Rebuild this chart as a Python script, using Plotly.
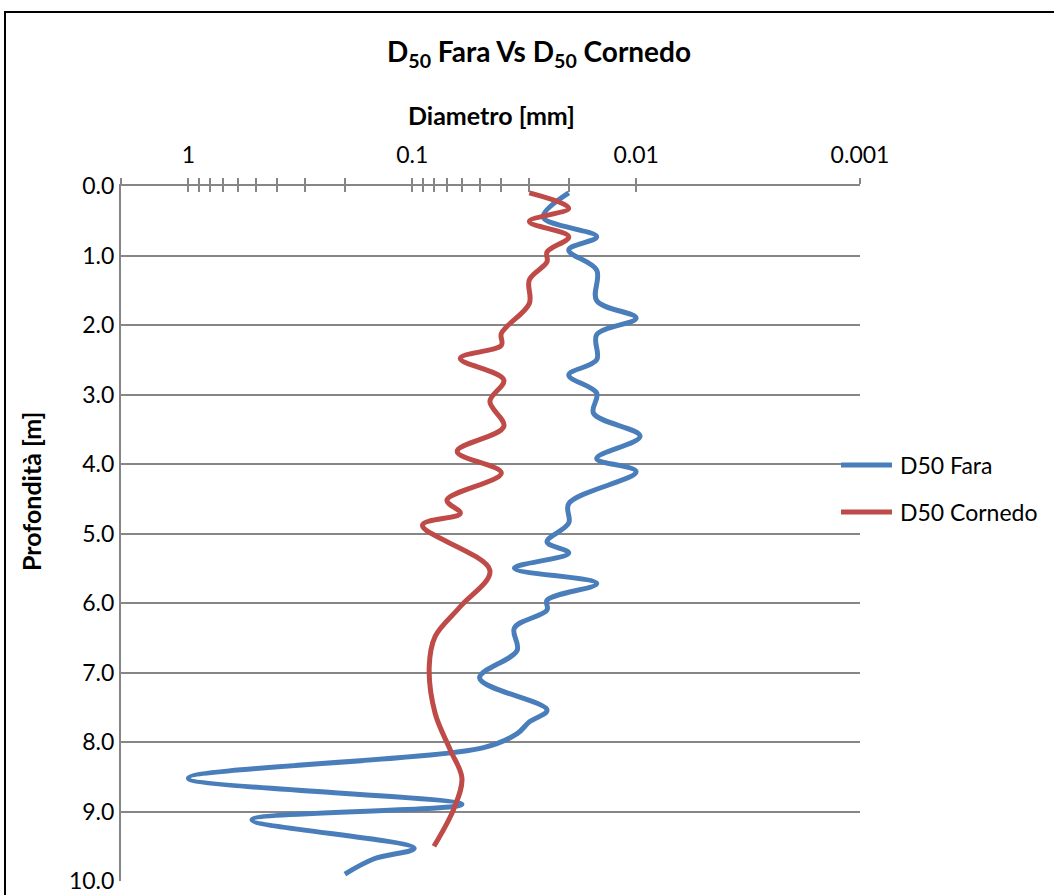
import plotly.graph_objects as go

# D50 grain diameter [mm] against depth [m]
depth_fara = [0.10, 0.45, 0.73, 0.92, 1.21, 1.65, 1.90, 2.14, 2.50, 2.72, 2.98, 3.27,
              3.60, 3.92, 4.11, 4.57, 4.85, 5.12, 5.28, 5.50, 5.72, 5.96, 6.10, 6.36,
              6.68, 7.08, 7.54, 7.71, 7.88, 8.08, 8.52, 8.90, 9.12, 9.53, 9.68, 9.90]
d50_fara = [0.020, 0.026, 0.015, 0.020, 0.015, 0.015, 0.010, 0.015, 0.015, 0.020, 0.015, 0.0155,
            0.0096, 0.015, 0.010, 0.020, 0.020, 0.025, 0.020, 0.035, 0.015, 0.025, 0.025, 0.035,
            0.034, 0.050, 0.025, 0.030, 0.034, 0.048, 1.00, 0.060, 0.52, 0.098, 0.148, 0.20]

depth_cornedo = [0.10, 0.32, 0.51, 0.73, 0.95, 1.09, 1.35, 1.69, 2.12, 2.29, 2.48, 2.79,
                 3.10, 3.46, 3.82, 4.13, 4.52, 4.71, 4.88, 5.53, 6.05, 6.48, 6.92, 7.59,
                 8.12, 8.52, 8.95, 9.50]
d50_cornedo = [0.030, 0.020, 0.030, 0.020, 0.025, 0.025, 0.030, 0.030, 0.040, 0.040, 0.061, 0.039,
               0.045, 0.039, 0.063, 0.040, 0.070, 0.061, 0.090, 0.045, 0.061, 0.079, 0.084, 0.079,
               0.0675, 0.060, 0.065, 0.080]

depth_ticks = [0, 1, 2, 3, 4, 5, 6, 7, 8, 9, 10]
diam_major = [1, 0.1, 0.01, 0.001]
diam_labels = ["1", "0.1", "0.01", "0.001"]

BLUE = "#4A7EBB"
RED = "#BE4B48"
GRID = "#868686"
FONT = "Lato, Carlito, 'Liberation Sans', sans-serif"

# minor log ticks at the 2..9 multiples of each decade
diam_minor = [2] + [round(m * 10 ** e, 6) for e in [0, -1, -2] for m in range(2, 10)]

W, H = 1054, 895
L, R, T, B = 121, 860, 186, 881
pw, ph = R - L, B - T


def px(x):
    return (x - L) / pw


def py(y):
    return (B - y) / ph


fig = go.Figure()
fig.add_trace(go.Scatter(x=d50_fara, y=depth_fara, mode="lines", name="D50 Fara",
                         line=dict(color=BLUE, width=5, shape="spline", smoothing=1.0)))
fig.add_trace(go.Scatter(x=d50_cornedo, y=depth_cornedo, mode="lines", name="D50 Cornedo",
                         line=dict(color=RED, width=5, shape="spline", smoothing=1.0)))
# companion axis carrying the inward half of the crossing ticks
fig.add_trace(go.Scatter(x=[], y=[], xaxis="x2", yaxis="y", showlegend=False, hoverinfo="skip"))

axis_common = dict(type="log", range=[0.30103, -3], side="top",
                   tickmode="array", tickvals=diam_major,
                   showgrid=False, showline=True, linecolor=GRID, linewidth=2,
                   tickcolor=GRID, tickwidth=2, ticklen=6, zeroline=False,
                   automargin=False)

fig.update_layout(
    width=W, height=H,
    margin=dict(l=L, r=W - R, t=T, b=H - B),
    paper_bgcolor="white", plot_bgcolor="white",
    showlegend=False,
    font=dict(family=FONT, color="#000000", size=23),
    xaxis=dict(**axis_common, ticktext=diam_labels, ticks="outside",
               minor=dict(tickmode="array", tickvals=diam_minor, ticks="outside",
                          ticklen=6, tickwidth=2, tickcolor=GRID, showgrid=False),
               tickfont=dict(size=23, family=FONT), ticklabelstandoff=6),
    xaxis2=dict(**axis_common, overlaying="x", matches="x", ticks="inside",
                minor=dict(tickmode="array", tickvals=diam_minor, ticks="inside",
                           ticklen=6, tickwidth=2, tickcolor=GRID, showgrid=False),
                showticklabels=False),
    yaxis=dict(range=[10, 0], tickvals=depth_ticks, tickformat=".1f",
               showgrid=True, gridcolor=GRID, gridwidth=2,
               showline=True, linecolor=GRID, linewidth=2,
               ticks="inside", ticklen=7, tickcolor=GRID, tickwidth=2,
               tickfont=dict(size=23, family=FONT), zeroline=False,
               automargin=False),
)

# chart frame
fig.add_shape(type="rect", xref="paper", yref="paper",
              x0=px(5), x1=px(1070), y0=py(910), y1=py(12),
              line=dict(color="#000000", width=2), fillcolor="rgba(0,0,0,0)", layer="below")

# titles
fig.add_annotation(text="<b>D<sub>50</sub> Fara Vs D<sub>50</sub> Cornedo</b>",
                   xref="paper", yref="paper", x=px(539), y=py(53),
                   xanchor="center", yanchor="middle", showarrow=False,
                   font=dict(size=28, family=FONT))
fig.add_annotation(text="<b>Diametro [mm]</b>", xref="paper", yref="paper",
                   x=px(491), y=py(115), xanchor="center", yanchor="middle",
                   showarrow=False, font=dict(size=25, family=FONT))
fig.add_annotation(text="<b>Profondità [m]</b>", xref="paper", yref="paper",
                   x=px(31), y=py(492), xanchor="center", yanchor="middle",
                   textangle=-90, showarrow=False, font=dict(size=25, family=FONT))

# legend drawn beside the plot
for name, color, yy in [("D50 Fara", BLUE, 465), ("D50 Cornedo", RED, 512)]:
    fig.add_shape(type="line", xref="paper", yref="paper",
                  x0=px(841), x1=px(892), y0=py(yy), y1=py(yy),
                  line=dict(color=color, width=5))
    fig.add_annotation(text=name, xref="paper", yref="paper", x=px(898), y=py(yy),
                       xanchor="left", yanchor="middle", showarrow=False,
                       font=dict(size=23, family=FONT))

fig.write_html("out.html")
